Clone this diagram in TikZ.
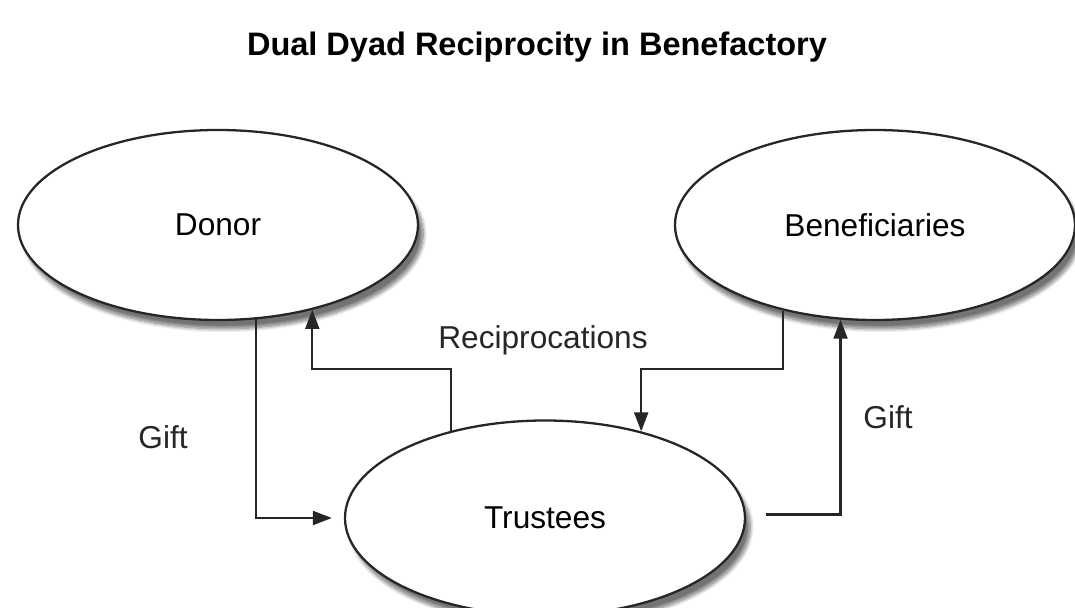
\documentclass[tikz,border=0pt]{standalone}
\usepackage{fontspec}
\setmainfont{Liberation Sans}
\usepackage{tikz}
\usetikzlibrary{shapes.geometric,arrows.meta,positioning,calc,shadows.blur}

\begin{document}
\begin{tikzpicture}[
        blob/.style={draw=black!85, ellipse, fill=white, line width=1.3pt,
          minimum width=8cm, minimum height=3.8cm, inner sep=0pt,
          font=\fontsize{18}{21}\selectfont,
          blur shadow={shadow xshift=3pt, shadow yshift=-5pt, shadow blur steps=10, shadow opacity=55}},
        lbl/.style={font=\fontsize{18}{21}\selectfont, text=black!85},
        flow/.style={line width=1.2pt, draw=black!85, -{Triangle[length=0.38cm,width=0.28cm]}},
        >=Stealth
      ]
        \useasboundingbox (0,0) rectangle (21.5,-12.16);
        \node[font=\bfseries\fontsize{18.5}{22}\selectfont] (title) at (10.74,-0.94) {Dual Dyad Reciprocity in Benefactory};
        \node[blob] (donor) at (4.36,-4.5) {Donor};
        \node[blob] (benef) at (17.5,-4.5) {Beneficiaries};
        \node[blob, minimum height=3.9cm] (trustees) at (10.9,-10.36) {Trustees};
        \coordinate (rec) at (0,-7.38);
        % gifts
        \draw[flow, shorten >=0.24cm] (donor.-68) |- (trustees.west);
        \draw[flow, shorten <=0.4cm] (trustees.1.7) -| (benef.-110.5);
        % reciprocations
        \draw[flow] (trustees.137) -- (trustees.137 |- rec) -| (donor.-42);
        \draw[flow] (benef.-137) -- (benef.-137 |- rec) -| (trustees.42);
        \node[lbl] (recip) at (10.86,-6.8) {Reciprocations};
        \node[lbl] (giftl) at (3.26,-8.74) {Gift};
        \node[lbl] (giftr) at (17.76,-8.34) {Gift};
      \end{tikzpicture}
\end{document}
